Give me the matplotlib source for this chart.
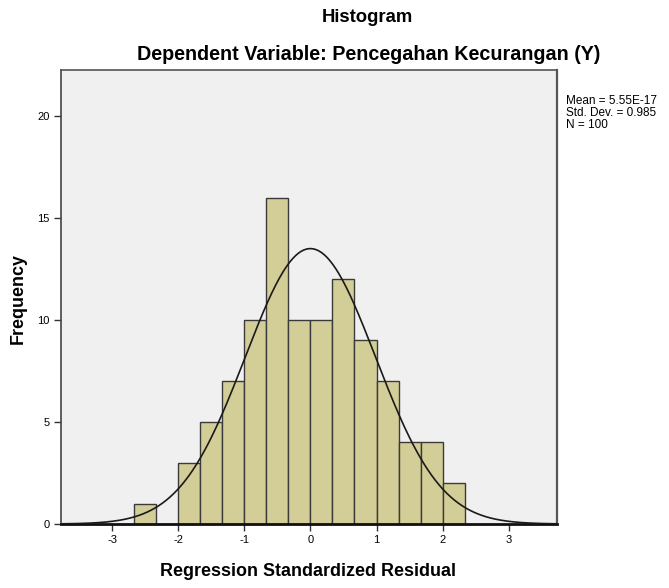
import numpy as np
import matplotlib
matplotlib.use("Agg")
import matplotlib.pyplot as plt

plt.rcParams['font.family'] = ['Liberation Sans', 'DejaVu Sans']

# Data
bin_edges = [-8/3, -7/3, -2, -5/3, -4/3, -1, -2/3, -1/3, 0, 1/3, 2/3, 1, 4/3, 5/3, 2, 7/3]
counts = [1, 0, 3, 5, 7, 10, 16, 10, 10, 12, 9, 7, 4, 4, 2]
mean = 5.55e-17
std = 0.985
n = 100
x_ticks = [-3, -2, -1, 0, 1, 2, 3]
y_ticks = [0, 5, 10, 15, 20]

W, H = 669, 588
fig = plt.figure(figsize=(W/100, H/100), dpi=100)
ax = fig.add_axes([60.5/W, 1-524/H, (557-60.5)/W, (524-70)/H])
ax.set_facecolor('#f0f0f0')

edges = np.array(bin_edges)
widths = np.diff(edges)
ax.bar(edges[:-1], counts, width=widths, align='edge', color='#d3ce97',
       edgecolor='#3a3a3a', linewidth=1.0, zorder=2)

xs = np.linspace(-3.8, 3.8, 400)
bw = widths[0]
ys = n * bw / (std * np.sqrt(2*np.pi)) * np.exp(-0.5*((xs-mean)/std)**2)
ax.plot(xs, ys, color='#1a1a1a', linewidth=1.2, zorder=3)

ax.set_xlim(-3.78, 3.73)
ax.set_ylim(0, (524-70)/20.4)
ax.set_xticks(x_ticks)
ax.set_xticklabels([str(t) for t in x_ticks])
ax.set_yticks(y_ticks)
ax.tick_params(axis='both', labelsize=8, length=5, width=1, color='#333333', pad=3)
for s in ['top', 'right']:
    ax.spines[s].set_color('#555555')
    ax.spines[s].set_linewidth(1.2)
ax.spines['right'].set_linewidth(1.6)
ax.spines['left'].set_color('#444444')
ax.spines['left'].set_linewidth(1.2)
ax.spines['bottom'].set_color('#111111')
ax.spines['bottom'].set_linewidth(2)

fig.text(367/W, 1-18/H, 'Histogram', ha='center', va='center', fontsize=13.3, fontweight='bold')
fig.text(369/W, 1-55/H, 'Dependent Variable: Pencegahan Kecurangan (Y)', ha='center', va='center',
         fontsize=14.2, fontweight='bold')
fig.text(308.5/W, 1-572/H, 'Regression Standardized Residual', ha='center', va='center',
         fontsize=12.9, fontweight='bold')
fig.text(18/W, 1-298/H, 'Frequency', ha='center', va='center', rotation=90,
         fontsize=12.9, fontweight='bold')
fig.text(566/W, 1-113/H, 'Mean = 5.55E-17\nStd. Dev. = 0.985\nN = 100', ha='left', va='center',
         fontsize=8.5, linespacing=0.95)

fig.savefig('out.png', dpi=100)
